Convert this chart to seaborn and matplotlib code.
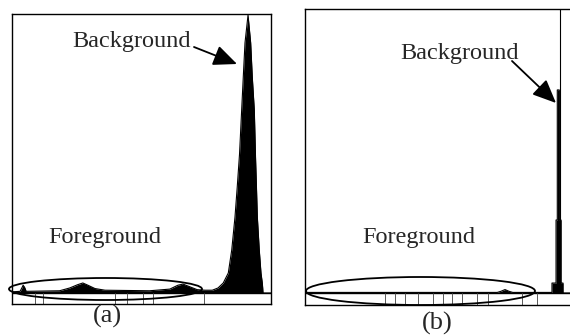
import seaborn as sns
import matplotlib.pyplot as plt
from matplotlib.patches import Ellipse

sns.set_style("white")
plt.rcParams['font.family'] = ['Liberation Serif', 'DejaVu Serif']

# histogram (a): gray level vs relative count
gray_a = [0, 8, 10, 11, 12.5, 14, 47, 57, 65, 70, 75, 82, 92, 136, 156, 164, 169,
          176, 183, 191, 198, 203.6, 208.8, 213.8, 217.2, 220.4, 222.6, 224.9,
          227.0, 228.6, 230.3, 233.3, 235.9, 237.5, 239.5, 240.7, 241.5, 242.5,
          244.4, 246.1, 247.4, 247.8, 248.1, 256]
count_a = [0.004, 0.006, 0.02, 0.028, 0.02, 0.006, 0.008, 0.018, 0.03, 0.036,
           0.028, 0.016, 0.01, 0.008, 0.014, 0.028, 0.032, 0.022, 0.012, 0.01,
           0.01, 0.018, 0.036, 0.072, 0.155, 0.273, 0.38, 0.5, 0.658, 0.777,
           0.9, 1.0, 0.9, 0.777, 0.658, 0.489, 0.396, 0.273, 0.155, 0.072, 0.036,
           0.018, 0.0, 0.0]
scale_ticks_a = [22.7, 30.6, 101.8, 113.7, 129.5, 139.4, 189.8]

# histogram (b): nearly all pixels in one bin
gray_b = [0, 185, 188.6, 192.5, 196.3, 200, 237.7, 237.7, 241.6, 241.6, 242.8,
          242.8, 244.7, 244.7, 246.4, 246.4, 248.3, 248.3, 256]
count_b = [0.002, 0.002, 0.006, 0.012, 0.006, 0.002, 0.002, 0.035, 0.035, 0.257,
           0.257, 0.715, 0.715, 0.257, 0.257, 0.035, 0.035, 0.0, 0.0]
scale_ticks_b = [77, 86.6, 96.2, 108.8, 123.2, 132.8, 141.5, 151.1, 165.5, 176.1,
                 208.8, 223.3]
guide_b = [245.4]

W, H = 570, 336
fig = plt.figure(figsize=(W / 100, H / 100), dpi=100)


def box(l, t, r, b):
    return [l / W, 1 - b / H, (r - l) / W, (b - t) / H]


def draw_panel(ax, gray, count, ticks, ylo, yhi):
    sns.lineplot(x=gray, y=count, ax=ax, color="black", lw=0.8,
                 estimator=None, sort=False)
    ax.fill_between(gray, 0, count, color="black", lw=0)
    ax.axhline(0, color="black", lw=1)
    ax.vlines(ticks, ylo, 0, color="0.35", lw=0.7)
    ax.set_xlim(0, 256)
    ax.set_ylim(ylo, yhi)
    ax.set_xticks([])
    ax.set_yticks([])
    for s in ax.spines.values():
        s.set_color("black")
        s.set_linewidth(1)


ax1 = fig.add_axes(box(12, 14, 271, 304))
draw_panel(ax1, gray_a, count_a, scale_ticks_a, -0.0396, 1.0036)

ax2 = fig.add_axes(box(305, 9, 571, 305))
draw_panel(ax2, gray_b, count_b, scale_ticks_b, -0.0423, 1.0)
ax2.vlines(guide_b, 0, 1.0, color="black", lw=0.8)
ax2.spines["right"].set_color("0.7")
ax2.spines["right"].set_linestyle(":")

txt = dict(fontsize=17.5, ha="center", va="center")
fig.text(132 / W, 1 - 42 / H, "Background", **txt)
fig.text(105 / W, 1 - 237 / H, "Foreground", **txt)
fig.text(460 / W, 1 - 53 / H, "Background", **txt)
fig.text(419 / W, 1 - 238 / H, "Foreground", **txt)
lab = dict(fontsize=19, ha="center", va="center")
fig.text(107 / W, 1 - 316 / H, "(a)", **lab)
fig.text(437 / W, 1 - 323 / H, "(b)", **lab)

arrow = dict(arrowstyle="-|>,head_length=0.8,head_width=0.35", color="black",
             lw=1.3, mutation_scale=18, shrinkA=0, shrinkB=0)
ax1.annotate("", xy=(237, H - 64), xytext=(194, H - 47),
             xycoords="figure pixels", textcoords="figure pixels",
             arrowprops=arrow, annotation_clip=False)
ax2.annotate("", xy=(556, H - 103), xytext=(512, H - 61),
             xycoords="figure pixels", textcoords="figure pixels",
             arrowprops=arrow, annotation_clip=False)

for cx, cy, w, h in [(105.5, 289, 193, 22), (420.5, 291, 229, 28)]:
    fig.add_artist(Ellipse((cx / W, 1 - cy / H), w / W, h / H,
                           transform=fig.transFigure, fill=False,
                           color="black", lw=1.3))

fig.savefig("out.png", dpi=100)
